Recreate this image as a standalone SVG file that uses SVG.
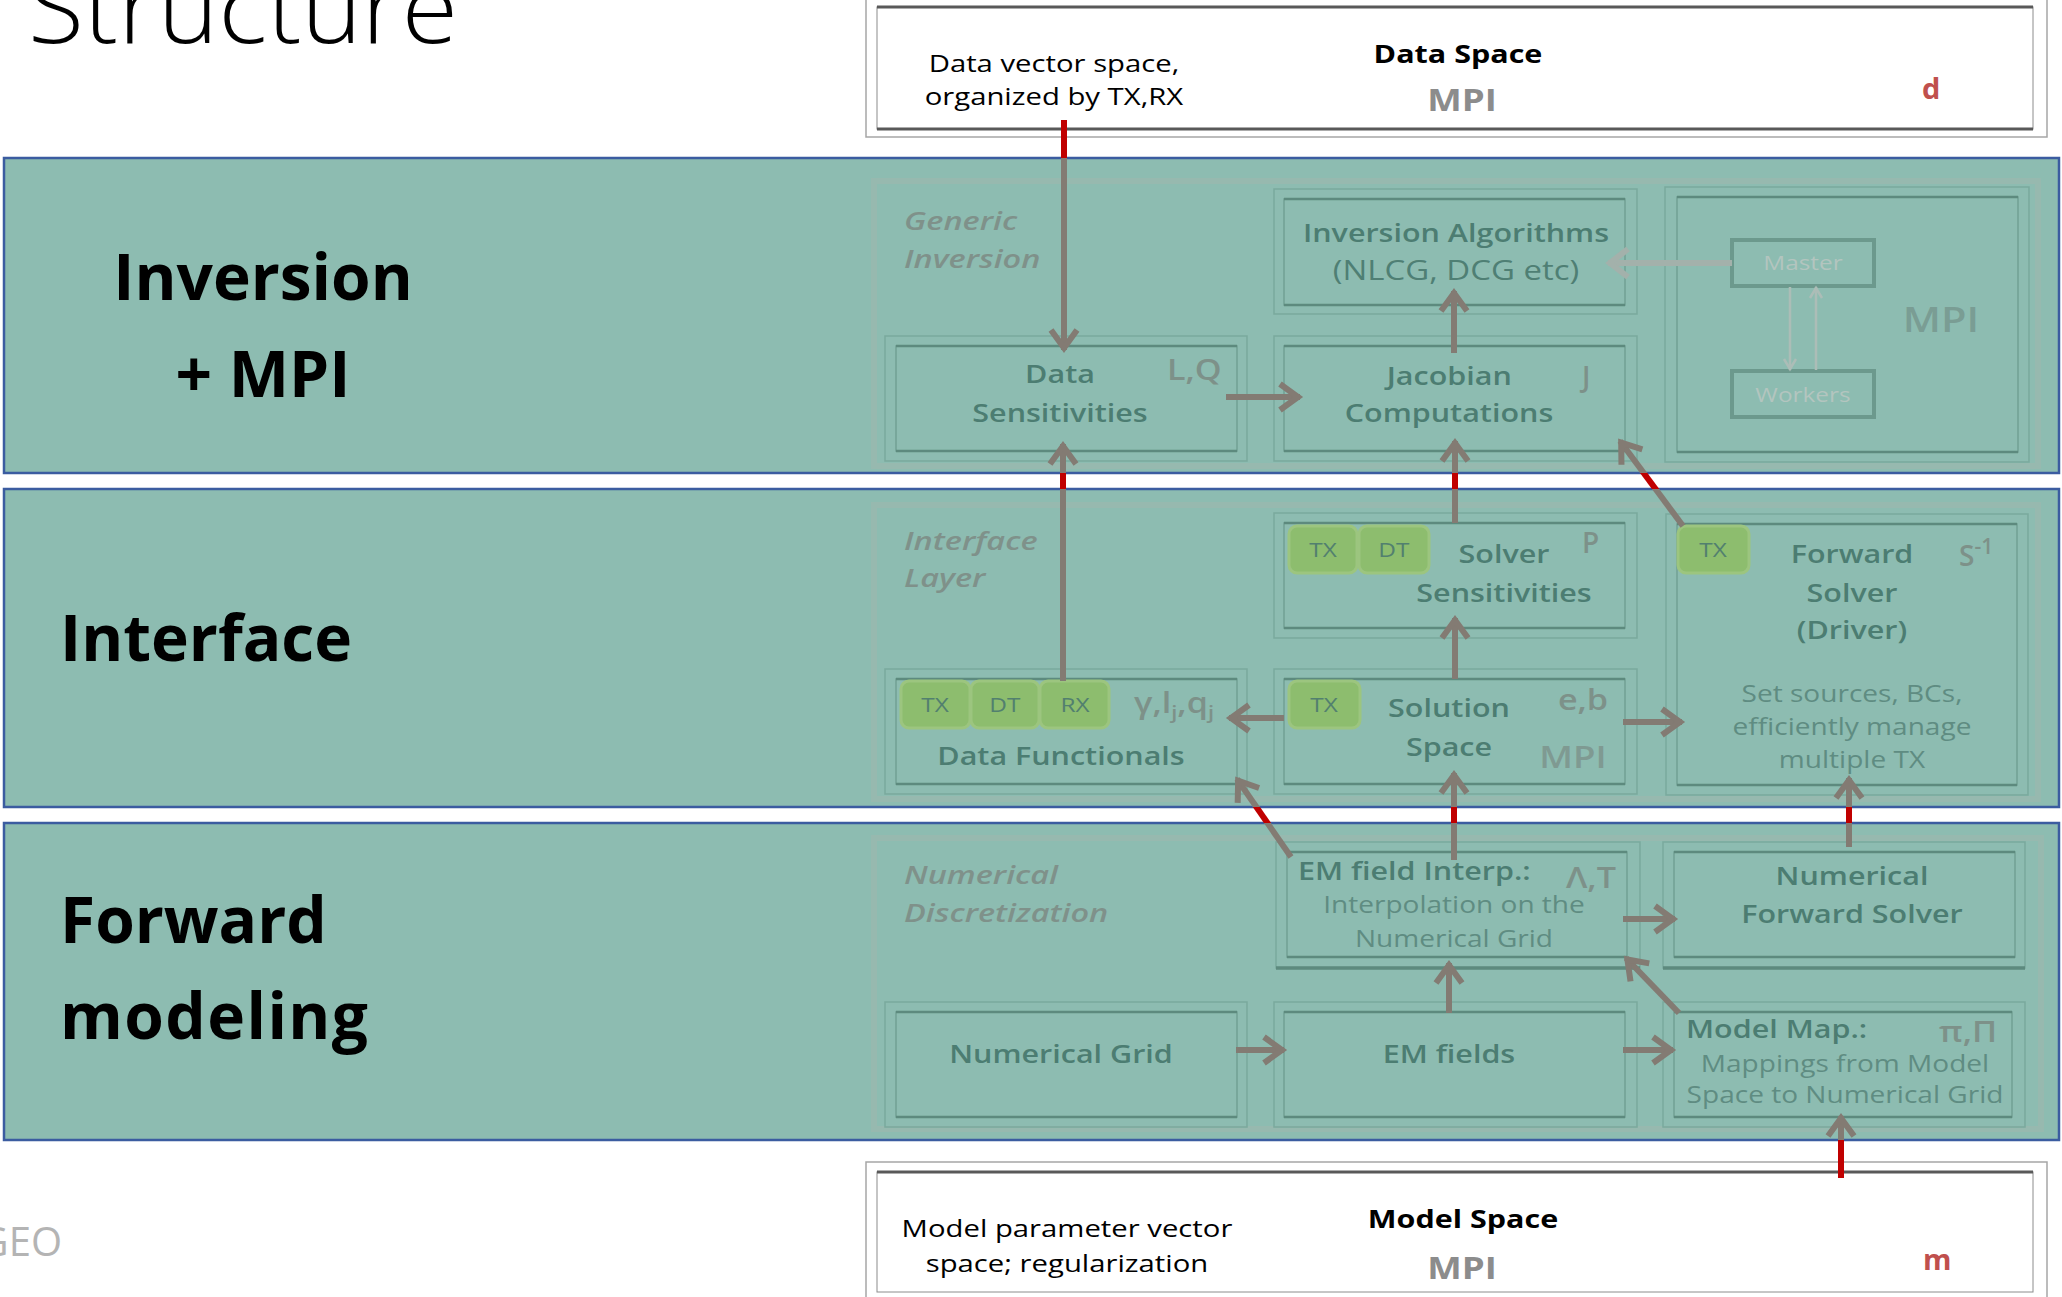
<svg xmlns="http://www.w3.org/2000/svg" width="2062" height="1297" viewBox="0 0 2062 1297">
<defs>
<style>
text{font-family:'Open Sans','Liberation Sans',sans-serif}
.sx{transform-box:fill-box;transform-origin:center;transform:scaleX(1.22)}
.sxl{transform-box:fill-box;transform-origin:left center;transform:scaleX(1.22)}
.sxi{transform-box:fill-box;transform-origin:left center;transform:scaleX(1.3)}
.band{fill:#8dbcb1;stroke:#3b5ca0;stroke-width:2.5}
.band-lbl{font-weight:700;font-size:64px;fill:#000}
.layer{fill:none;stroke:#97b9af;stroke-width:6}
.layer-lbl{font-style:italic;font-weight:600;font-size:25px;fill:#7f918a}
.bo{fill:none;stroke:#7aa99d;stroke-width:1.5}
.bi{fill:none;stroke:#72a094;stroke-width:1.5}
.be{stroke:#5d8a7e;stroke-width:2.5}
.shadow{stroke-width:3.5}
.lbl{font-weight:600;font-size:25px;fill:#4c7d72;text-anchor:middle}
.sub{font-weight:400;font-size:23px;fill:#5f8c82;text-anchor:middle}
.sub-lg{font-size:27px;fill:#4f7f74}
.start{text-anchor:start}
.sym{font-weight:600;font-size:28px;fill:#7d9189}
.sym-mpi{font-size:30px;fill:#7f9a92}
.sym-big{font-size:34px;fill:#7a9d94}
.chip rect{fill:#8dbd6e;stroke:#9cc57f;stroke-width:3}
.chip text{font-size:20px;fill:#52806f;text-anchor:middle}
.sp-out{fill:#fff;stroke:#a6a6a6;stroke-width:1.5}
.sp-in{fill:none;stroke:#8c8c8c;stroke-width:1}
.sp-edge{stroke:#595959;stroke-width:3}
.sp-txt{font-size:24px;fill:#000;text-anchor:middle}
.sp-head{font-size:25px;font-weight:700;fill:#000;text-anchor:middle}
.sp-mpi{font-size:30px;font-weight:700;fill:#8c8c8c;text-anchor:middle}
.sp-sym{font-size:29px;font-weight:700;fill:#c0504d}
.wire{fill:none;stroke:url(#wire);stroke-width:6;marker-end:url(#ah)}
.faint{fill:none;stroke:#a3b1ab;stroke-width:6;marker-end:url(#ahf)}
.thin{fill:none;stroke:#acbdb7;stroke-width:2.5;marker-end:url(#ahs)}
.mpi-box{fill:none;stroke:#6c998d;stroke-width:4}
.mpi-txt{font-size:20px;fill:#b3c5bf;text-anchor:middle}
</style>
<linearGradient id="wire" gradientUnits="userSpaceOnUse" x1="0" y1="0" x2="0" y2="1297">
<stop offset="0" stop-color="#c00000"/>
<stop offset="0.1218" stop-color="#c00000"/>
<stop offset="0.1218" stop-color="#837b73"/>
<stop offset="0.3647" stop-color="#837b73"/>
<stop offset="0.3647" stop-color="#c00000"/>
<stop offset="0.3770" stop-color="#c00000"/>
<stop offset="0.3770" stop-color="#837b73"/>
<stop offset="0.6222" stop-color="#837b73"/>
<stop offset="0.6222" stop-color="#c00000"/>
<stop offset="0.6345" stop-color="#c00000"/>
<stop offset="0.6345" stop-color="#837b73"/>
<stop offset="0.8790" stop-color="#837b73"/>
<stop offset="0.8790" stop-color="#c00000"/>
<stop offset="1" stop-color="#c00000"/>
</linearGradient>
<marker id="ah" markerUnits="userSpaceOnUse" viewBox="-30 -20 34 40" markerWidth="34" markerHeight="40" refX="0" refY="0" orient="auto">
<path d="M-20,-13 L-2,0 L-20,13" fill="none" stroke="#837b73" stroke-width="6"/>
</marker>
<marker id="ahf" markerUnits="userSpaceOnUse" viewBox="-30 -20 34 40" markerWidth="34" markerHeight="40" refX="0" refY="0" orient="auto">
<path d="M-20,-14 L-2,0 L-20,14" fill="none" stroke="#a3b1ab" stroke-width="6"/>
</marker>
<marker id="ahs" markerUnits="userSpaceOnUse" viewBox="-16 -10 18 20" markerWidth="18" markerHeight="20" refX="0" refY="0" orient="auto">
<path d="M-11,-6 L-1,0 L-11,6" fill="none" stroke="#acbdb7" stroke-width="2.5"/>
</marker>
</defs>

<rect width="2062" height="1297" fill="#fff"/>

<!-- slide heading and logo fragment -->
<text x="28" y="43" font-size="98" font-weight="300" textLength="430" lengthAdjust="spacingAndGlyphs" fill="#000">Structure</text>
<text x="62" y="1256" text-anchor="end" font-size="40" fill="#b4b4b4" font-family="Liberation Sans, sans-serif">GEO</text>

<!-- data space (top) -->
<g id="n-data-space">
<rect class="sp-out" x="866" y="-10" width="1181" height="147"/>
<rect class="sp-in" x="877" y="7" width="1156" height="122"/>
<line class="sp-edge" x1="877" y1="7" x2="2033" y2="7"/>
<line class="sp-edge" x1="877" y1="129" x2="2033" y2="129"/>
<text class="sp-txt sx" x="1054" y="72">Data vector space,</text>
<text class="sp-txt sx" x="1054" y="105">organized by TX,RX</text>
<text class="sp-head sx" x="1458" y="63">Data Space</text>
<text class="sp-mpi sx" x="1462" y="111">MPI</text>
<text class="sp-sym" x="1922" y="99">d</text>
</g>

<!-- model space (bottom) -->
<g id="n-model-space">
<rect class="sp-out" x="866" y="1162" width="1181" height="150"/>
<rect class="sp-in" x="877" y="1172" width="1156" height="120"/>
<line class="sp-edge" x1="877" y1="1172" x2="2033" y2="1172"/>
<text class="sp-txt sx" x="1067" y="1237">Model parameter vector</text>
<text class="sp-txt sx" x="1067" y="1272">space; regularization</text>
<text class="sp-head sx" x="1463" y="1228">Model Space</text>
<text class="sp-mpi sx" x="1462" y="1279">MPI</text>
<text class="sp-sym" x="1923" y="1270">m</text>
</g>

<!-- the three layer bands -->
<g id="bands">
<rect class="band" x="4" y="158" width="2055" height="315"/>
<rect class="band" x="4" y="489" width="2055" height="318"/>
<rect class="band" x="4" y="823" width="2055" height="317"/>
<text class="band-lbl" x="263" y="300" text-anchor="middle">Inversion</text>
<text class="band-lbl" x="263" y="397" text-anchor="middle">+ MPI</text>
<text class="band-lbl" x="60" y="661">Interface</text>
<text class="band-lbl" x="60" y="943">Forward</text>
<text class="band-lbl" x="60" y="1039" textLength="308">modeling</text>
</g>

<!-- layer frames -->
<g id="layers">
<rect class="layer" x="874" y="181" width="1164" height="285"/>
<rect class="layer" x="874" y="505" width="1164" height="294"/>
<rect class="layer" x="874" y="838" width="1167" height="291"/>
<text class="layer-lbl sxi" x="904" y="230">Generic</text>
<text class="layer-lbl sxi" x="904" y="268">Inversion</text>
<text class="layer-lbl sxi" x="904" y="550">Interface</text>
<text class="layer-lbl sxi" x="904" y="587">Layer</text>
<text class="layer-lbl sxi" x="904" y="884">Numerical</text>
<text class="layer-lbl sxi" x="904" y="922">Discretization</text>
</g>

<!-- generic inversion layer -->
<g id="n-inv-alg">
<rect class="bo" x="1274" y="189" width="363" height="125"/>
<rect class="bi" x="1284" y="199" width="341" height="106"/>
<line class="be" x1="1284" y1="199" x2="1625" y2="199"/>
<line class="be" x1="1284" y1="305" x2="1625" y2="305"/>
<text class="lbl sx" x="1456" y="242">Inversion Algorithms</text>
<text class="sub sub-lg sx" x="1456" y="280">(NLCG, DCG etc)</text>
</g>
<g id="n-data-sens">
<rect class="bo" x="885" y="336" width="362" height="125"/>
<rect class="bi" x="896" y="346" width="341" height="105"/>
<line class="be" x1="896" y1="346" x2="1237" y2="346"/>
<line class="be" x1="896" y1="451" x2="1237" y2="451"/>
<text class="lbl sx" x="1060" y="383">Data</text>
<text class="lbl sx" x="1060" y="422">Sensitivities</text>
<text class="sym sxl" x="1167" y="380">L,Q</text>
</g>
<g id="n-jacobian">
<rect class="bo" x="1274" y="336" width="363" height="125"/>
<rect class="bi" x="1284" y="346" width="341" height="105"/>
<line class="be" x1="1284" y1="346" x2="1625" y2="346"/>
<line class="be" x1="1284" y1="451" x2="1625" y2="451"/>
<text class="lbl sx" x="1449" y="385">Jacobian</text>
<text class="lbl sx" x="1449" y="422">Computations</text>
<text class="sym" x="1582" y="387">J</text>
</g>
<g id="n-mpi">
<rect class="bo" x="1665" y="187" width="364" height="275"/>
<rect class="bi" x="1677" y="197" width="341" height="255"/>
<line class="be" x1="1677" y1="197" x2="2018" y2="197"/>
<line class="be" x1="1677" y1="452" x2="2018" y2="452"/>
<text class="sym sym-big sx" x="1941" y="332" text-anchor="middle">MPI</text>
</g>
<g id="n-master">
<rect class="mpi-box" x="1732" y="240" width="142" height="46"/>
<text class="mpi-txt sx" x="1803" y="270">Master</text>
</g>
<g id="n-workers">
<rect class="mpi-box" x="1732" y="371" width="142" height="46"/>
<text class="mpi-txt sx" x="1803" y="402">Workers</text>
</g>

<!-- interface layer -->
<g id="n-solver-sens">
<rect class="bo" x="1274" y="513" width="363" height="125"/>
<rect class="bi" x="1284" y="523" width="341" height="105"/>
<line class="be" x1="1284" y1="523" x2="1625" y2="523"/>
<line class="be" x1="1284" y1="628" x2="1625" y2="628"/>
<g class="chip"><rect x="1289" y="526" width="68" height="47" rx="8"/><text class="sx" x="1323" y="557">TX</text></g>
<g class="chip"><rect x="1359" y="526" width="70" height="47" rx="8"/><text class="sx" x="1394" y="557">DT</text></g>
<text class="lbl sx" x="1504" y="563">Solver</text>
<text class="lbl sx" x="1504" y="602">Sensitivities</text>
<text class="sym" x="1582" y="553">P</text>
</g>
<g id="n-fwd-driver">
<rect class="bo" x="1666" y="514" width="362" height="281"/>
<rect class="bi" x="1677" y="524" width="340" height="261"/>
<line class="be" x1="1677" y1="524" x2="2017" y2="524"/>
<line class="be" x1="1677" y1="785" x2="2017" y2="785"/>
<g class="chip"><rect x="1678" y="526" width="71" height="47" rx="8"/><text class="sx" x="1713" y="557">TX</text></g>
<text class="lbl sx" x="1852" y="563">Forward</text>
<text class="lbl sx" x="1852" y="602">Solver</text>
<text class="lbl sx" x="1852" y="639">(Driver)</text>
<text class="sym" x="1959" y="566">S<tspan font-size="21" dy="-12">-1</tspan></text>
<text class="sub sx" x="1852" y="702">Set sources, BCs,</text>
<text class="sub sx" x="1852" y="735">efficiently manage</text>
<text class="sub sx" x="1852" y="768">multiple TX</text>
</g>
<g id="n-data-func">
<rect class="bo" x="885" y="669" width="362" height="125"/>
<rect class="bi" x="896" y="679" width="341" height="105"/>
<line class="be" x1="896" y1="679" x2="1237" y2="679"/>
<line class="be" x1="896" y1="784" x2="1237" y2="784"/>
<g class="chip"><rect x="901" y="681" width="69" height="47" rx="8"/><text class="sx" x="935" y="712">TX</text></g>
<g class="chip"><rect x="971" y="681" width="68" height="47" rx="8"/><text class="sx" x="1005" y="712">DT</text></g>
<g class="chip"><rect x="1040" y="681" width="69" height="47" rx="8"/><text class="sx" x="1075" y="712">RX</text></g>
<text class="sym sxl" x="1134" y="713">γ,l<tspan font-size="18" dy="6">j</tspan><tspan dy="-6">,q</tspan><tspan font-size="18" dy="6">j</tspan></text>
<text class="lbl sx" x="1061" y="765">Data Functionals</text>
</g>
<g id="n-solution">
<rect class="bo" x="1274" y="669" width="363" height="125"/>
<rect class="bi" x="1284" y="679" width="341" height="105"/>
<line class="be" x1="1284" y1="679" x2="1625" y2="679"/>
<line class="be" x1="1284" y1="784" x2="1625" y2="784"/>
<g class="chip"><rect x="1289" y="681" width="71" height="47" rx="8"/><text class="sx" x="1324" y="712">TX</text></g>
<text class="lbl sx" x="1449" y="717">Solution</text>
<text class="lbl sx" x="1449" y="756">Space</text>
<text class="sym sx" x="1583" y="710" text-anchor="middle">e,b</text>
<text class="sym sym-mpi sx" x="1573" y="768" text-anchor="middle">MPI</text>
</g>

<!-- numerical discretization layer -->
<g id="n-em-interp">
<rect class="bo" x="1276" y="842" width="364" height="126"/>
<line class="be shadow" x1="1276" y1="968" x2="1640" y2="968"/>
<rect class="bi" x="1287" y="852" width="340" height="105"/>
<line class="be" x1="1287" y1="852" x2="1627" y2="852"/>
<line class="be" x1="1287" y1="957" x2="1627" y2="957"/>
<text class="lbl start sxl" x="1298" y="880">EM field Interp.:</text>
<text class="sym sx" x="1591" y="888" text-anchor="middle">Λ,T</text>
<text class="sub sx" x="1454" y="913">Interpolation on the</text>
<text class="sub sx" x="1454" y="947">Numerical Grid</text>
</g>
<g id="n-num-fwd">
<rect class="bo" x="1663" y="842" width="362" height="126"/>
<line class="be shadow" x1="1663" y1="968" x2="2025" y2="968"/>
<rect class="bi" x="1674" y="852" width="341" height="105"/>
<line class="be" x1="1674" y1="852" x2="2015" y2="852"/>
<line class="be" x1="1674" y1="957" x2="2015" y2="957"/>
<text class="lbl sx" x="1852" y="885">Numerical</text>
<text class="lbl sx" x="1852" y="923">Forward Solver</text>
</g>
<g id="n-num-grid">
<rect class="bo" x="885" y="1002" width="362" height="125"/>
<rect class="bi" x="896" y="1012" width="341" height="105"/>
<line class="be" x1="896" y1="1012" x2="1237" y2="1012"/>
<line class="be" x1="896" y1="1117" x2="1237" y2="1117"/>
<text class="lbl sx" x="1061" y="1063">Numerical Grid</text>
</g>
<g id="n-em-fields">
<rect class="bo" x="1274" y="1002" width="363" height="125"/>
<rect class="bi" x="1284" y="1012" width="341" height="105"/>
<line class="be" x1="1284" y1="1012" x2="1625" y2="1012"/>
<line class="be" x1="1284" y1="1117" x2="1625" y2="1117"/>
<text class="lbl sx" x="1449" y="1063">EM fields</text>
</g>
<g id="n-model-map">
<rect class="bo" x="1663" y="1002" width="362" height="125"/>
<rect class="bi" x="1674" y="1012" width="338" height="105"/>
<line class="be" x1="1674" y1="1012" x2="2012" y2="1012"/>
<line class="be" x1="1674" y1="1117" x2="2012" y2="1117"/>
<text class="lbl start sxl" x="1686" y="1038">Model Map.:</text>
<text class="sym sx" x="1968" y="1042" text-anchor="middle">π,Π</text>
<text class="sub sx" x="1845" y="1072">Mappings from Model</text>
<text class="sub sx" x="1845" y="1103">Space to Numerical Grid</text>
</g>

<!-- connectors: red between the bands, muted inside them -->
<g id="connectors">
<path class="wire" d="M1064,120 L1064,350"/>
<path class="wire" d="M1063,681 L1063,444"/>
<path class="wire" d="M1226,397 L1300,397"/>
<path class="wire" d="M1454,353 L1454,291"/>
<path class="wire" d="M1455,523 L1455,441"/>
<path class="wire" d="M1683,526 L1620,441"/>
<path class="wire" d="M1455,679 L1455,618"/>
<path class="wire" d="M1284,718 L1229,718"/>
<path class="wire" d="M1623,722 L1682,722"/>
<path class="wire" d="M1236,1050 L1284,1050"/>
<path class="wire" d="M1623,1050 L1673,1050"/>
<path class="wire" d="M1449,1013 L1449,963"/>
<path class="wire" d="M1679,1013 L1626,958"/>
<path class="wire" d="M1623,919 L1675,919"/>
<path class="wire" d="M1454,860 L1454,773"/>
<path class="wire" d="M1291,857 L1237,779"/>
<path class="wire" d="M1849,847 L1849,778"/>
<path class="wire" d="M1841,1178 L1841,1116"/>
<path class="faint" d="M1732,263 L1608,263"/>
<path class="thin" d="M1790,287 L1790,370"/>
<path class="thin" d="M1816,370 L1816,287"/>
</g>
</svg>
